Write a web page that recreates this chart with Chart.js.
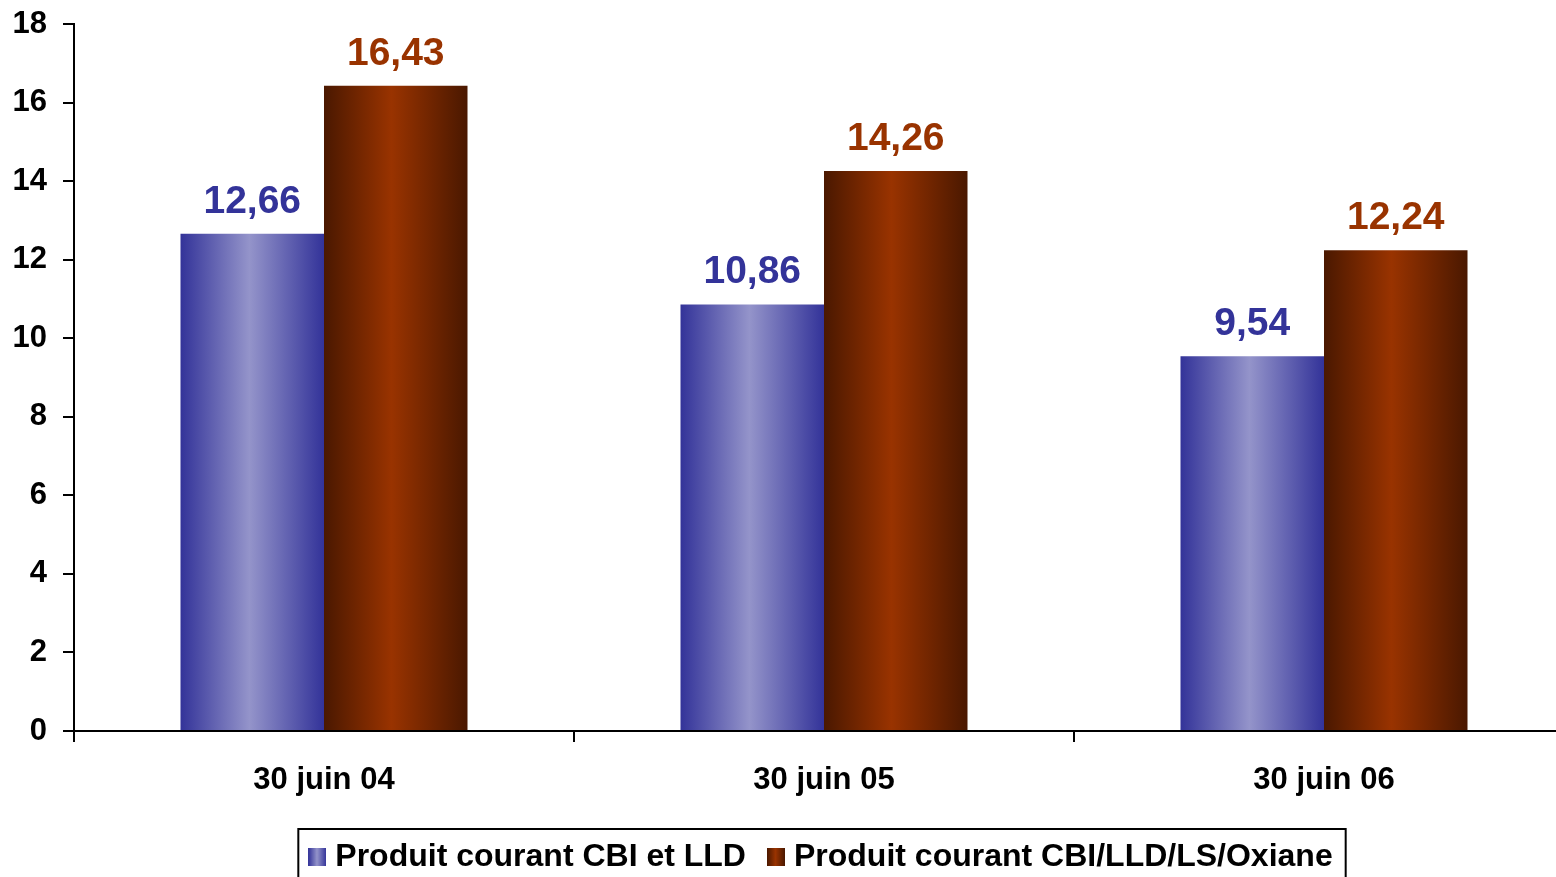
<!DOCTYPE html>
<html>
<head>
<meta charset="utf-8">
<script src="https://cdn.jsdelivr.net/npm/chart.js@4/dist/chart.umd.min.js"></script>
<style>
  html, body { margin: 0; padding: 0; background: #fff; overflow: hidden; }
  #wrap { width: 1556px; height: 877px; overflow: hidden; position: relative; }
  canvas { display: block; }
</style>
</head>
<body>
<div id="wrap"><canvas id="c" width="1574" height="883"></canvas></div>
<script>
// Data
const categories = ['30 juin 04', '30 juin 05', '30 juin 06'];
const seriesNames = ['Produit courant CBI et LLD', 'Produit courant CBI/LLD/LS/Oxiane'];
const cbiLld = [12.66, 10.86, 9.54];
const cbiLldLsOxiane = [16.43, 14.26, 12.24];
const yTicks = [0, 2, 4, 6, 8, 10, 12, 14, 16, 18];

const FONT = "'Liberation Sans', Arial, sans-serif";
const CAT_PCT = 0.574;

// Horizontal "cylinder" shading for each series
const shading = [
  { stops: [[0, '#333399'], [0.48, '#9494ca'], [1, '#333399']], label: '#333399' },
  { stops: [[0, '#4a1800'], [0.47, '#993300'], [1, '#4a1800']], label: '#993300' }
];

function makeGradient(ctx2d, x0, x1, stops) {
  const g = ctx2d.createLinearGradient(x0, 0, x1, 0);
  stops.forEach(([o, c]) => g.addColorStop(o, c));
  return g;
}

function barFill(ctx) {
  const chart = ctx.chart;
  const s = shading[ctx.datasetIndex];
  const xs = chart.scales && chart.scales.x;
  if (ctx.type !== 'data' || !xs || !xs.width) return s.stops[1][1];
  const center = xs.getPixelForValue(ctx.dataIndex);
  const barW = (xs.width / categories.length) * CAT_PCT / 2;
  const left = ctx.datasetIndex === 0 ? center - barW : center;
  return makeGradient(chart.ctx, left, left + barW, s.stops);
}

// Small shaded squares for the legend
function swatch(stops) {
  const c = document.createElement('canvas');
  c.width = 18; c.height = 18;
  const g = c.getContext('2d');
  g.fillStyle = makeGradient(g, 0, 18, stops);
  g.fillRect(0, 0, 18, 18);
  return c;
}
const swatches = shading.map(s => swatch(s.stops));

// Value labels above the bars
const valueLabels = {
  id: 'valueLabels',
  afterDatasetsDraw(chart) {
    const ctx = chart.ctx;
    ctx.save();
    ctx.font = `bold 39px ${FONT}`;
    ctx.textAlign = 'center';
    ctx.textBaseline = 'alphabetic';
    chart.data.datasets.forEach((ds, di) => {
      const meta = chart.getDatasetMeta(di);
      ctx.fillStyle = shading[di].label;
      meta.data.forEach((bar, i) => {
        const txt = ds.data[i].toFixed(2).replace('.', ',');
        ctx.fillText(txt, bar.x, bar.y - 21);
      });
    });
    ctx.restore();
  }
};

// Legend placement and frame
const LEGEND_SHIFT = 37;
const legendFrame = {
  id: 'legendFrame',
  afterLayout(chart) {
    const lg = chart.legend;
    lg.left += LEGEND_SHIFT;
    lg.right += LEGEND_SHIFT;
  },
  afterDraw(chart) {
    const boxes = chart.legend.legendHitBoxes;
    if (!boxes || !boxes.length) return;
    const first = boxes[0], last = boxes[boxes.length - 1];
    const l = first.left - 17;
    const r = last.left + last.width + 13;
    const t = first.top - 12;
    const ctx = chart.ctx;
    ctx.save();
    ctx.strokeStyle = '#000';
    ctx.lineWidth = 2;
    ctx.beginPath();
    ctx.moveTo(l, chart.height + 5);
    ctx.lineTo(l, t);
    ctx.lineTo(r, t);
    ctx.lineTo(r, chart.height + 5);
    ctx.stroke();
    ctx.restore();
  }
};

new Chart(document.getElementById('c'), {
  type: 'bar',
  data: {
    labels: categories,
    datasets: [
      { label: seriesNames[0], data: cbiLld, backgroundColor: barFill, borderWidth: 0 },
      { label: seriesNames[1], data: cbiLldLsOxiane, backgroundColor: barFill, borderWidth: 0 }
    ]
  },
  options: {
    responsive: false,
    animation: false,
    events: [],
    datasets: { bar: { categoryPercentage: CAT_PCT, barPercentage: 1 } },
    layout: { padding: { top: 24, left: 0, right: 0, bottom: 0 } },
    scales: {
      x: {
        grid: { display: true, drawOnChartArea: false, drawTicks: true, tickLength: 11, color: '#000', lineWidth: 2, offset: true },
        border: { display: true, color: '#000', width: 2 },
        ticks: { color: '#000', font: { family: FONT, size: 31, weight: 'bold' }, padding: 20, maxRotation: 0 },
        afterFit(scale) { scale.height = 82; }
      },
      y: {
        min: 0, max: 18,
        afterBuildTicks(scale) { scale.ticks = yTicks.map(v => ({ value: v })); },
        grid: { display: true, drawOnChartArea: false, drawTicks: true, tickLength: 11, color: '#000', lineWidth: 2 },
        border: { display: true, color: '#000', width: 2 },
        ticks: { color: '#000', font: { family: FONT, size: 31, weight: 'bold' }, padding: 16 },
        afterFit(scale) {
          scale.width = 74;
          scale.paddingTop = 0;
          scale.paddingBottom = 0;
        }
      }
    },
    plugins: {
      tooltip: { enabled: false },
      legend: {
        display: true,
        position: 'bottom',
        labels: {
          usePointStyle: true,
          pointStyleWidth: 4,
          padding: 28,
          color: '#000',
          font: { family: FONT, size: 32, weight: 'bold' },
          generateLabels(chart) {
            return chart.data.datasets.map((ds, i) => ({
              text: ds.label,
              pointStyle: swatches[i],
              fillStyle: shading[i].label,
              strokeStyle: 'rgba(0,0,0,0)',
              lineWidth: 0,
              hidden: false,
              datasetIndex: i,
              fontColor: '#000'
            }));
          }
        }
      }
    }
  },
  plugins: [valueLabels, legendFrame]
});
</script>
</body>
</html>
